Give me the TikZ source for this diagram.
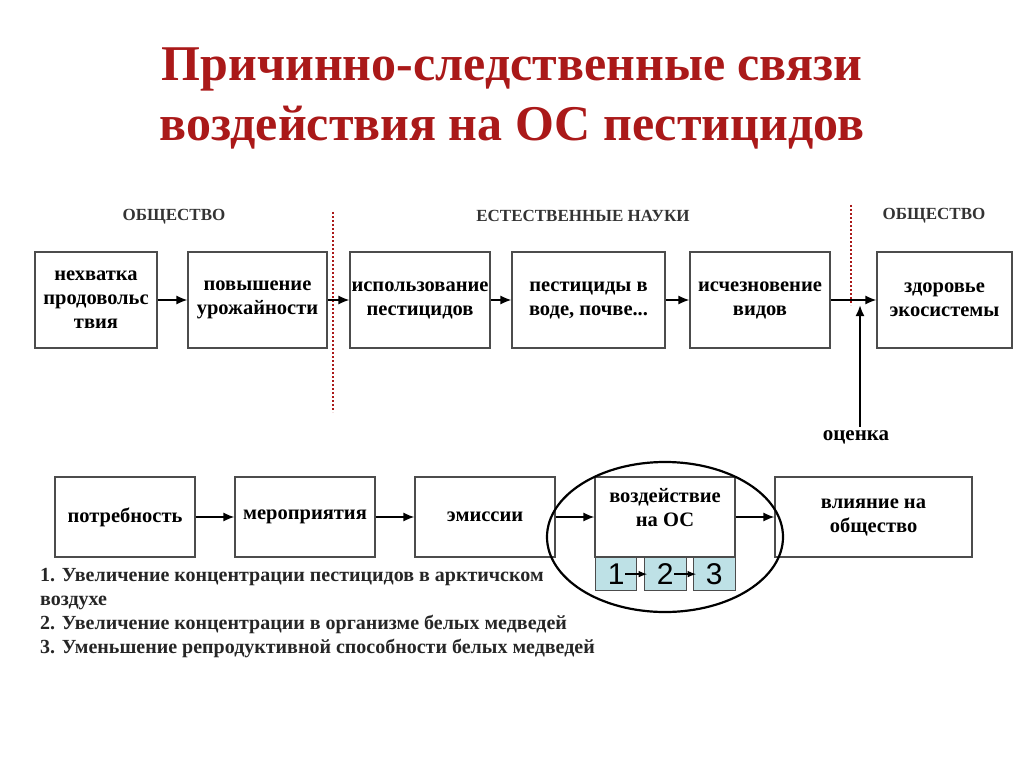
\documentclass[tikz,border=0pt]{standalone}
\usepackage{fontspec}
\setmainfont{Liberation Serif}
\setsansfont{Liberation Sans}
\usetikzlibrary{arrows.meta}
\definecolor{tred}{RGB}{170,25,25}
\definecolor{cellc}{RGB}{190,225,230}
\begin{document}
\begin{tikzpicture}[x=1pt,y=-1pt,
 bx/.style={draw=black!70,line width=1.2pt,align=center,font=\bfseries\fontsize{20.5}{24}\selectfont,inner sep=0pt},
 hd/.style={font=\bfseries\fontsize{17}{19}\selectfont,text=black!80},
 ar/.style={-{Latex[length=11pt,width=9pt]},line width=1.5pt},
 cell/.style={draw=black!70,line width=1.2pt,fill=cellc,font=\sffamily\fontsize{30}{32}\selectfont,minimum width=41pt,minimum height=33pt,inner sep=0pt},
 sep/.style={tred,dotted,line width=2pt}]
\useasboundingbox (0,0) rectangle (1024,767);
\node[font=\bfseries\fontsize{50}{60}\selectfont,text=tred,align=center] (title) at (512,98) {Причинно-следственные связи\\воздействия на ОС пестицидов};
\node[hd] (h1) at (174,217) {ОБЩЕСТВО};
\node[hd] (h2) at (583,216) {ЕСТЕСТВЕННЫЕ НАУКИ};
\node[hd] (h3) at (934,216) {ОБЩЕСТВО};
\draw[sep] (333,212) -- (333,412);
\draw[sep] (851,205) -- (851,305);
\node[bx,minimum width=122pt,minimum height=96pt] (a1) at (96,300) {нехватка\\продовольс\\твия};
\node[bx,minimum width=139pt,minimum height=96pt] (a2) at (257.5,300) {повышение\\урожайности};
\node[bx,minimum width=140pt,minimum height=96pt] (a3) at (420,300) {};
\node[align=center,font=\bfseries\fontsize{20.5}{24}\selectfont] (a3t) at (a3.center) {использование\\пестицидов};
\node[bx,minimum width=153pt,minimum height=96pt] (a4) at (588.5,300) {пестициды в\\воде, почве...};
\node[bx,minimum width=140pt,minimum height=96pt] (a5) at (760,300) {исчезновение\\видов};
\node[bx,minimum width=135pt,minimum height=96pt] (a6) at (944.5,300) {здоровье\\экосистемы};
\foreach \p/\q in {a1/a2,a2/a3,a3/a4,a4/a5,a5/a6} \draw[ar] (\p) -- (\q);
\node[font=\bfseries\fontsize{21}{23}\selectfont] (oc) at (856,437) {оценка};
\coordinate (up) at (860,305);
\draw[ar,line width=2pt] (oc.north -| up) -- (up);
\node[bx,minimum width=140pt,minimum height=80pt] (b1) at (125,517) {потребность};
\node[bx,minimum width=140pt,minimum height=80pt] (b2) at (305,517) {мероприятия};
\node[bx,minimum width=140pt,minimum height=80pt] (b3) at (485,517) {эмиссии};
\node[bx,minimum width=140pt,minimum height=80pt,text depth=20pt] (b4) at (665,517) {воздействие\\на ОС};
\node[bx,minimum width=197pt,minimum height=80pt] (b5) at (873.5,517) {влияние на\\общество};
\foreach \p/\q in {b1/b2,b2/b3,b3/b4,b4/b5} \draw[ar] (\p) -- (\q);
\node[cell,anchor=north west] (c1) at (595,557) {1};
\node[cell,anchor=north west,minimum width=42pt] (c2) at (643.5,557) {2};
\node[cell,anchor=north west,minimum width=42pt] (c3) at (692.5,557) {3};
\draw[-{Latex[length=9pt]},line width=1.5pt] (c1.center) ++(9,0) -- ([xshift=4pt]c2.west);
\draw[-{Latex[length=9pt]},line width=1.5pt] (c2.center) ++(9,0) -- ([xshift=4pt]c3.west);
\draw[line width=2.2pt] (665,537) ellipse [x radius=118, y radius=75];
\node[anchor=north west,align=left,font=\bfseries\fontsize{20}{24}\selectfont,text=black!85,inner sep=0pt] (list) at (40,568) {1. Увеличение концентрации пестицидов в арктичском\\воздухе\\2. Увеличение концентрации в организме белых медведей\\3. Уменьшение репродуктивной способности белых медведей};
\end{tikzpicture}
\end{document}
